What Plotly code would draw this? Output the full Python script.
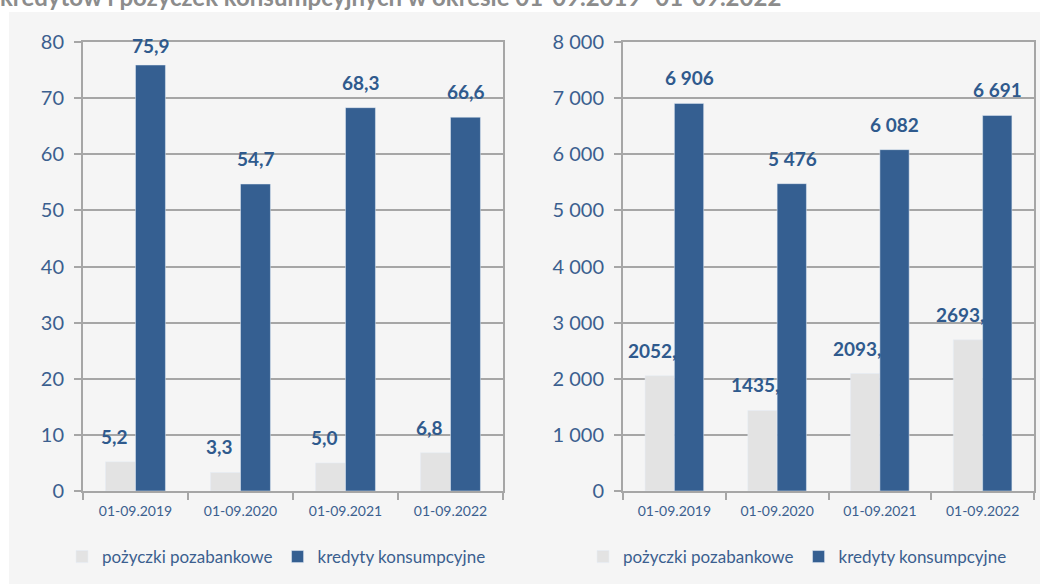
import plotly.graph_objects as go

categories = ["01-09.2019", "01-09.2020", "01-09.2021", "01-09.2022"]
series_names = ["pożyczki pozabankowe", "kredyty konsumpcyjne"]
left_pozyczki = [5.2, 3.3, 5.0, 6.8]
left_kredyty = [75.9, 54.7, 68.3, 66.6]
right_pozyczki = [2052, 1435, 2093, 2693]
right_kredyty = [6906, 5476, 6082, 6691]
left_ticks = [0, 10, 20, 30, 40, 50, 60, 70, 80]
right_ticks = [0, 1000, 2000, 3000, 4000, 5000, 6000, 7000, 8000]
title_text = "kredytów i pożyczek konsumpcyjnych w okresie 01-09.2019–01-09.2022"

FONT = "Lato"
LIGHT = "#e3e3e3"
DARK = "#355f91"
TXT = "#3b5f8f"
LBL = "#2f5a8d"
GRID = "#a6a6a6"
W, H = 1040, 584

def px_x(p):
    return p / W

def px_y(p):
    return 1 - p / H

fig = go.Figure()

fig.add_trace(go.Bar(x=categories, y=left_pozyczki, name=series_names[0], marker_color=LIGHT,
                     xaxis="x", yaxis="y", legend="legend"))
fig.add_trace(go.Bar(x=categories, y=left_kredyty, name=series_names[1], marker_color=DARK,
                     xaxis="x", yaxis="y", legend="legend"))
fig.add_trace(go.Bar(x=categories, y=right_pozyczki, name=series_names[0], marker_color=LIGHT,
                     xaxis="x2", yaxis="y2", legend="legend2"))
fig.add_trace(go.Bar(x=categories, y=right_kredyty, name=series_names[1], marker_color=DARK,
                     xaxis="x2", yaxis="y2", legend="legend2"))

def fmt_left(v):
    return f"{v:.1f}".replace(".", ",")

def fmt_right(v):
    return f"{v:,}".replace(",", " ")

annotations = []
lab_font = dict(family=FONT, size=19, color=LBL, weight="bold")
for c, v in zip(categories, left_pozyczki):
    annotations.append(dict(x=c, y=v, xref="x", yref="y", text=fmt_left(v), showarrow=False,
                            xshift=-21, yanchor="bottom", yshift=12, font=lab_font))
for c, v in zip(categories, left_kredyty):
    # label nearest the top of the plot sits a little closer to its bar
    ys = 6 if v > 75 else 12
    annotations.append(dict(x=c, y=v, xref="x", yref="y", text=fmt_left(v), showarrow=False,
                            xshift=15, yanchor="bottom", yshift=ys, font=lab_font))
for c, v in zip(categories, right_pozyczki):
    annotations.append(dict(x=c, y=v, xref="x2", yref="y2", text=f"{v},", showarrow=False,
                            xshift=-22, yanchor="bottom", yshift=12, font=lab_font))
for c, v in zip(categories, right_kredyty):
    annotations.append(dict(x=c, y=v, xref="x2", yref="y2", text=fmt_right(v), showarrow=False,
                            xshift=15, yanchor="bottom", yshift=12, font=lab_font))

annotations.append(dict(x=px_x(783), y=px_y(13), xref="paper", yref="paper", xanchor="right",
                        yanchor="bottom", text=title_text, showarrow=False,
                        font=dict(family=FONT, size=24, color="#8c8c8c", weight="bold")))

xaxis_common = dict(type="category", showline=True, linecolor=GRID, linewidth=2, mirror=True,
                    ticks="outside", tickson="boundaries", ticklen=7, tickwidth=2, tickcolor=GRID,
                    tickfont=dict(family=FONT, size=14, color=TXT), showgrid=False,
                    ticklabelstandoff=6, fixedrange=True)
yaxis_common = dict(showline=True, linecolor=GRID, linewidth=2, mirror=True,
                    ticks="outside", ticklen=7, tickwidth=2, tickcolor=GRID,
                    showgrid=True, gridcolor=GRID, gridwidth=2, zeroline=False,
                    tickfont=dict(family=FONT, size=20, color=TXT), ticklabelstandoff=6)

ydom = [px_y(491), px_y(42)]
leg_font = dict(family=FONT, size=17, color=TXT)

fig.update_layout(
    width=W, height=H, autosize=False,
    margin=dict(l=0, r=0, t=0, b=0, autoexpand=False),
    paper_bgcolor="white", plot_bgcolor="#f5f5f5",
    separators=", ",
    barmode="group", bargap=0.43, bargroupgap=0,
    font=dict(family=FONT, color=TXT),
    xaxis=dict(domain=[px_x(83), px_x(503)], anchor="y", **xaxis_common),
    yaxis=dict(domain=ydom, anchor="x", range=[0, 80], tickvals=left_ticks, **yaxis_common),
    xaxis2=dict(domain=[px_x(623), px_x(1034)], anchor="y2", **xaxis_common),
    yaxis2=dict(domain=ydom, anchor="x2", range=[0, 8000], tickvals=right_ticks,
                separatethousands=True, tickformat=",d", **yaxis_common),
    legend=dict(orientation="h", x=px_x(62), y=px_y(557), xanchor="left", yanchor="middle",
                bgcolor="rgba(0,0,0,0)", font=leg_font, traceorder="normal"),
    legend2=dict(orientation="h", x=px_x(583), y=px_y(557), xanchor="left", yanchor="middle",
                 bgcolor="rgba(0,0,0,0)", font=leg_font, traceorder="normal"),
    annotations=annotations,
    shapes=[dict(type="rect", xref="paper", yref="paper", x0=px_x(9), x1=1, y0=0, y1=px_y(12),
                 fillcolor="#f5f5f5", line=dict(width=0), layer="below")],
)

fig.write_html("out.html")
